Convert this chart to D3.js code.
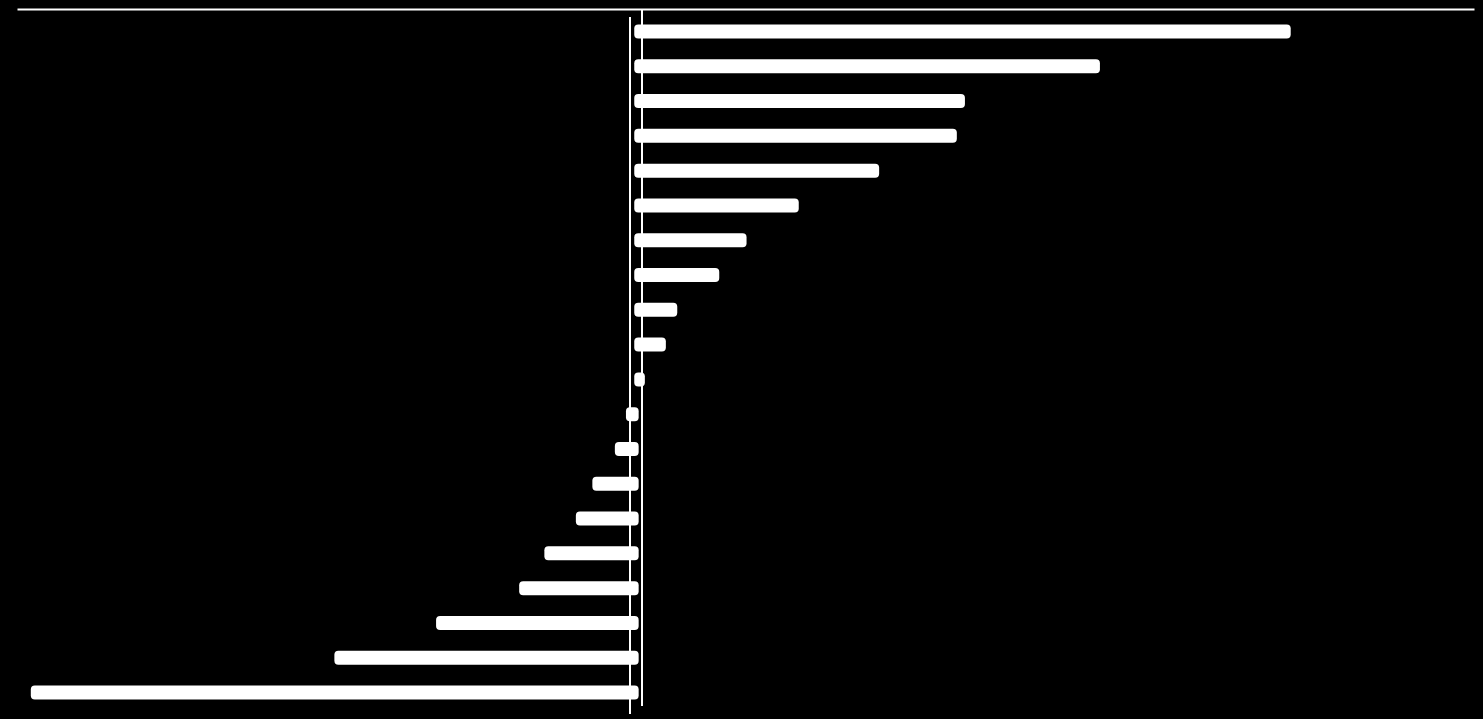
<!DOCTYPE html>
<html>
<head>
<meta charset="utf-8">
<script src="https://cdn.jsdelivr.net/npm/d3@7"></script>
<style>
  html, body { margin: 0; padding: 0; background: #000; }
  svg { display: block; }
</style>
</head>
<body>
<div id="chart"></div>
<script>
// data (no labels are shown in the reference)
const categories = [
  'Item 1', 'Item 2', 'Item 3', 'Item 4', 'Item 5',
  'Item 6', 'Item 7', 'Item 8', 'Item 9', 'Item 10',
  'Item 11', 'Item 12', 'Item 13', 'Item 14', 'Item 15',
  'Item 16', 'Item 17', 'Item 18', 'Item 19', 'Item 20'
];
const values = [
  21.81, 15.45, 10.95, 10.68, 8.09,
  5.41, 3.67, 2.76, 1.36, 0.98,
  0.28, -0.35, -0.72, -1.47, -2.02,
  -3.07, -3.91, -6.68, -10.07, -20.19
];
const xDomain = [-20.65, 27.92];

const width = 1483;
const height = 719;
const barHeight = 14;
const zeroPad = 2.2; // bars poke a bit past the zero line

const data = categories.map((c, i) => ({ name: c, value: values[i] }));

const svg = d3.select('#chart')
  .append('svg')
  .attr('width', width)
  .attr('height', height)
  .style('background', '#000');

const x = d3.scaleLinear()
  .domain(xDomain)
  .range([17, 1474]);

const y = d3.scalePoint()
  .domain(categories)
  .range([31.5, 692.5]);

// top axis line, no ticks or labels
svg.append('g')
  .attr('transform', 'translate(0, 9)')
  .call(d3.axisTop(x).ticks(0).tickSizeOuter(0))
  .call(g => g.select('.domain').attr('stroke', '#fff').attr('stroke-width', 2));

// bars
svg.append('g')
  .selectAll('rect')
  .data(data)
  .join('rect')
  .attr('x', d => d.value >= 0 ? x(0) - zeroPad : x(d.value))
  .attr('y', d => y(d.name) - barHeight / 2)
  .attr('width', d => Math.abs(x(d.value) - x(0)) + zeroPad)
  .attr('height', barHeight)
  .attr('rx', 4)
  .attr('fill', '#fff');

// the two vertical rules near zero
svg.append('line')
  .attr('x1', 630).attr('x2', 630)
  .attr('y1', 17).attr('y2', 714)
  .attr('stroke', '#fff')
  .attr('stroke-width', 2);

svg.append('line')
  .attr('x1', 642).attr('x2', 642)
  .attr('y1', 9).attr('y2', 706)
  .attr('stroke', '#fff')
  .attr('stroke-width', 2);
</script>
</body>
</html>
